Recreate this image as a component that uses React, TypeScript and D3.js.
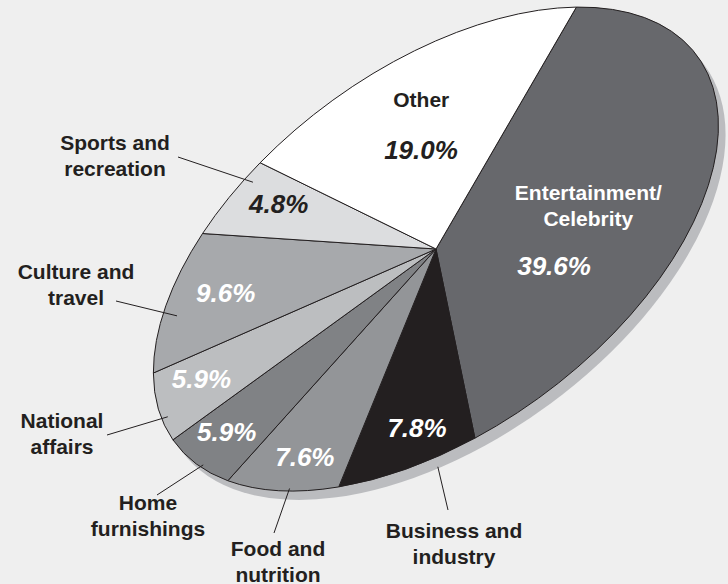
import * as d3 from 'd3';

// slices, clockwise from the top boundary
const categories = [
  'Entertainment/Celebrity',
  'Business and industry',
  'Food and nutrition',
  'Home furnishings',
  'National affairs',
  'Culture and travel',
  'Sports and recreation',
  'Other',
];
const shares = [39.6, 7.8, 7.6, 5.9, 5.9, 9.6, 4.8, 19.0];
const labelLines = [
  ['Entertainment/', 'Celebrity'],
  ['Business and', 'industry'],
  ['Food and', 'nutrition'],
  ['Home', 'furnishings'],
  ['National', 'affairs'],
  ['Culture and', 'travel'],
  ['Sports and', 'recreation'],
  ['Other'],
];

const fills = ['#67686c', '#231f20', '#939598', '#808285', '#bcbec0', '#a7a9ac', '#dcdddf', '#ffffff'];
const pctColors = ['#fff', '#fff', '#fff', '#fff', '#fff', '#fff', '#231f20', '#231f20'];

// tilted ellipse geometry
const W = 728;
const H = 584;
const CX = 436;
const CY = 249;
const RX = 325;
const RY = 181;
const TILT = 36.5;
const START = (52.2 * Math.PI) / 180;
const INK = '#231f20';
const FONT = '"Liberation Sans", Arial, Helvetica, sans-serif';

// [fraction across slice, radius] for the percentage labels
const pctSpots = [
  [0.69, 0.53],
  [0.45, 0.82],
  [0.46, 0.86],
  [0.57, 0.86],
  [0.59, 0.84],
  [0.51, 0.78],
  [0.59, 0.78],
  [0.476, 0.51],
];

// names drawn inside the pie
const insideNames: { [k: number]: [number, number] } = {
  0: [0.503, 0.55],
  7: [0.505, 0.75],
};

// names drawn outside with a leader line
const callouts: { [k: number]: { x: number; y: number; lx: number; ly: number; t: number; r: number } } = {
  1: { x: 454, y: 538, lx: 448, ly: 510, t: 0.27, r: 1.05 },
  2: { x: 278, y: 556, lx: 274, ly: 533, t: 0.42, r: 0.99 },
  3: { x: 148, y: 510, lx: 157, ly: 495, t: 0.42, r: 0.99 },
  4: { x: 62, y: 428, lx: 107, ly: 435, t: 0.33, r: 0.98 },
  5: { x: 76, y: 279, lx: 116, ly: 301, t: 0.4, r: 0.943 },
  6: { x: 115, y: 150, lx: 178, ly: 157, t: 0.76, r: 0.957 },
};

function project(alpha: number, r: number): [number, number] {
  const th = (TILT * Math.PI) / 180;
  const px = r * Math.sin(alpha) * RX;
  const py = -r * Math.cos(alpha) * RY;
  return [CX + px * Math.cos(th) + py * Math.sin(th), CY - px * Math.sin(th) + py * Math.cos(th)];
}

export default function App() {
  const pie = d3
    .pie<number>()
    .sort(null)
    .startAngle(START)
    .endAngle(START + 2 * Math.PI)(shares);
  const arc = d3.arc<d3.PieArcDatum<number>>().innerRadius(0).outerRadius(1);
  const at = (d: d3.PieArcDatum<number>, t: number, r: number) =>
    project(d.startAngle + (d.endAngle - d.startAngle) * t, r);

  return (
    <svg
      width={W}
      height={H}
      style={{ position: 'fixed', left: 0, top: 0 }}
      fontFamily={FONT}
      fontWeight="bold"
    >
      <rect width={W} height={H} fill="#efefef" />
      <ellipse
        rx={RX}
        ry={RY}
        fill="#bbbcbf"
        transform={`translate(${CX + 7},${CY + 9}) rotate(${-TILT})`}
      />
      <g transform={`translate(${CX},${CY}) rotate(${-TILT}) scale(${RX},${RY})`}>
        {pie.map((d, i) => (
          <path
            key={categories[i]}
            d={arc(d) ?? ''}
            fill={fills[i]}
            stroke={INK}
            strokeWidth={1}
            strokeLinejoin="round"
            vectorEffect="non-scaling-stroke"
          />
        ))}
      </g>
      {pie.map((d, i) => {
        const [x, y] = at(d, pctSpots[i][0], pctSpots[i][1]);
        return (
          <text
            key={'p' + i}
            x={x}
            y={y}
            dy="0.36em"
            textAnchor="middle"
            fontStyle="italic"
            fontSize={26}
            fill={pctColors[i]}
          >
            {shares[i].toFixed(1)}%
          </text>
        );
      })}
      {pie.map((d, i) => {
        const spot = insideNames[i];
        if (!spot) return null;
        const [x, y] = at(d, spot[0], spot[1]);
        const lines = labelLines[i];
        return (
          <text key={'n' + i} textAnchor="middle" fontSize={21} fill={i === 7 ? INK : '#fff'}>
            {lines.map((s, j) => (
              <tspan key={j} x={x} y={y + (j - (lines.length - 1) / 2) * 26} dy="0.36em">
                {s}
              </tspan>
            ))}
          </text>
        );
      })}
      {pie.map((d, i) => {
        const c = callouts[i];
        if (!c) return null;
        const [ix, iy] = at(d, c.t, c.r);
        return (
          <g key={'c' + i}>
            <line x1={c.lx} y1={c.ly} x2={ix} y2={iy} stroke={INK} strokeWidth={1} />
            <text textAnchor="middle" fontSize={21} fill={INK}>
              {labelLines[i].map((s, j) => (
                <tspan key={j} x={c.x} y={c.y + j * 25.5}>
                  {s}
                </tspan>
              ))}
            </text>
          </g>
        );
      })}
    </svg>
  );
}
